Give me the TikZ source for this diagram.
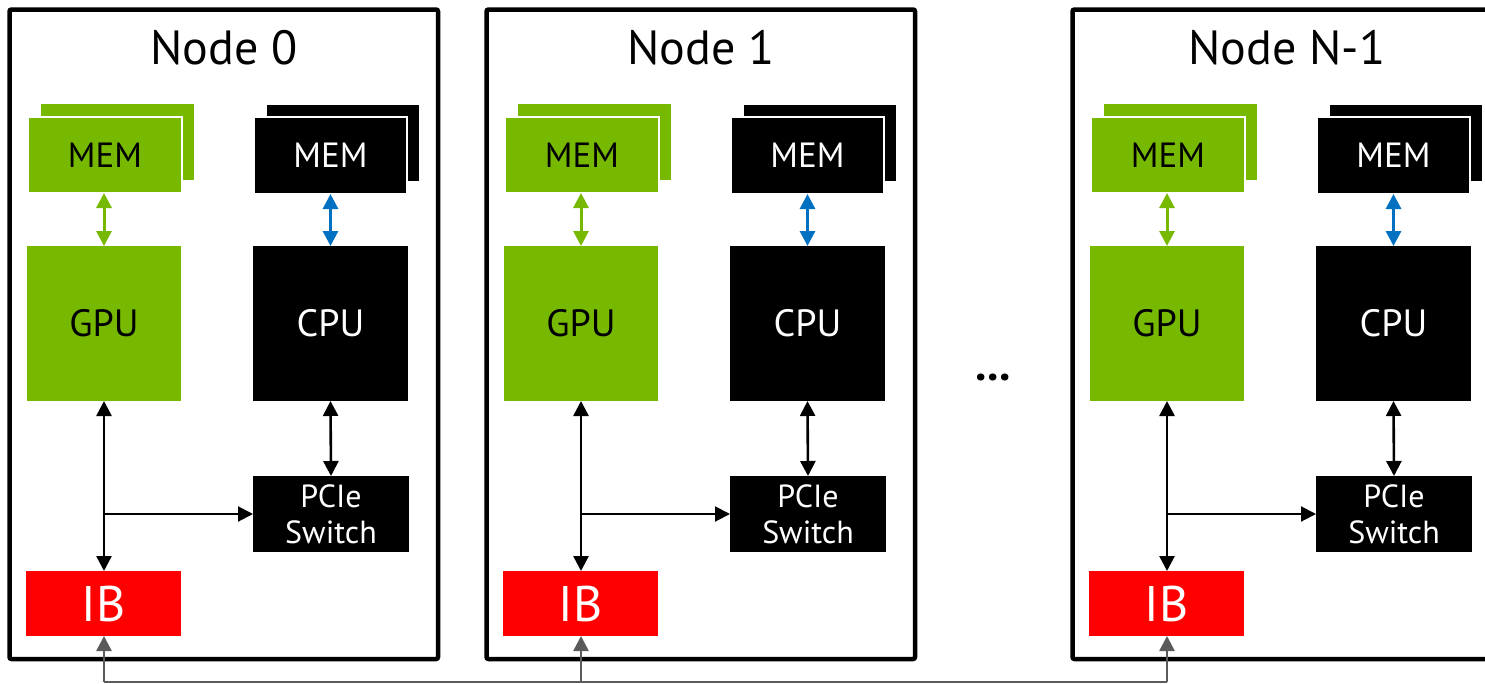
\documentclass[tikz,border=0pt]{standalone}
\usepackage{fontspec}
\setmainfont{PT Sans}
\usetikzlibrary{arrows.meta}
\definecolor{nvgreen}{HTML}{76B900}
\definecolor{ibred}{HTML}{FF0000}
\definecolor{memblue}{HTML}{0070C0}
\definecolor{busgray}{HTML}{5A5A5A}
\begin{document}
\begin{tikzpicture}[x=1pt,y=-1pt,
  blk/.style={inner sep=0pt, outer sep=0pt, align=center},
  greenblk/.style={blk, fill=nvgreen, text=black},
  blackblk/.style={blk, fill=black, text=white},
  redblk/.style={blk, fill=ibred, text=white},
  frontmem/.style={draw=white, line width=1.2pt},
  memfont/.style={font=\fontsize{35}{38}\selectfont},
  chipfont/.style={font=\fontsize{38}{42}\selectfont},
  pciefont/.style={font=\fontsize{32}{36}\selectfont},
  ibfont/.style={font=\fontsize{50}{54}\selectfont},
  titlefont/.style={font=\fontsize{48}{52}\selectfont},
  nodebox/.style={draw=black, line width=4.5pt, rounded corners=2pt},
  memlink/.style={{Triangle[width=15pt,length=15pt]}-{Triangle[width=15pt,length=15pt]}, line width=3pt},
  dualblack/.style={{Triangle[width=15pt,length=15pt]}-{Triangle[width=15pt,length=15pt]}, line width=2.6pt, draw=black},
  branch/.style={-{Triangle[width=15pt,length=15pt]}, line width=2pt, draw=black},
  busup/.style={-{Triangle[width=15pt,length=15pt]}, line width=2.6pt, draw=busgray},
  busline/.style={line width=2pt, draw=busgray}
]
\useasboundingbox (0,0) rectangle (1485,683);
\clip (0,0) rectangle (1485,683);

\foreach \i/\dx/\t in {0/0/0, 1/477/1, 2/1063/N-1}{
  \begin{scope}[xshift=\dx pt]
    \draw[nodebox] (9.5,9.5) rectangle (438,659);
    \node[titlefont] (title\i) at (224,48) {Node \t};
    % GPU memory (stacked)
    \node[greenblk, minimum width=153pt, minimum height=76pt] (gmemb\i) at (117.5,142) {};
    \node[greenblk, frontmem, memfont, minimum width=154pt, minimum height=76pt] (gmem\i) at (105,155) {MEM};
    % CPU memory (stacked)
    \node[blackblk, minimum width=152pt, minimum height=76pt] (cmemb\i) at (343,143) {};
    \node[blackblk, frontmem, memfont, minimum width=153pt, minimum height=77pt] (cmem\i) at (330.5,155.5) {MEM};
    % chips
    \node[greenblk, chipfont, minimum width=154pt, minimum height=155pt] (gpu\i) at (104,323.5) {GPU};
    \node[blackblk, chipfont, minimum width=155pt, minimum height=155pt] (cpu\i) at (330.5,323.5) {CPU};
    \node[blackblk, pciefont, minimum width=156pt, minimum height=76pt] (pcie\i) at (331,514) {PCIe\\Switch};
    \node[redblk, ibfont, minimum width=155pt, minimum height=65pt] (ib\i) at (103.5,603.5) {IB};
    \coordinate (j\i) at (104,514);
    \coordinate (b\i) at (104,682);
  \end{scope}
  \draw[memlink, draw=nvgreen, fill=nvgreen] (gpu\i.north) -- (gpu\i.north |- gmem\i.south);
  \draw[memlink, draw=memblue, fill=memblue] (cpu\i.north) -- (cpu\i.north |- cmem\i.south);
  \draw[dualblack] (gpu\i.south) -- (gpu\i.south |- ib\i.north);
  \draw[dualblack] (cpu\i.south) -- (pcie\i.north);
  \draw[branch] (j\i) -- (pcie\i.west);
  \draw[busup] (b\i) -- (b\i |- ib\i.south);
}
\draw[busline] (b0) -- (b2);
\node[font=\fontsize{46}{50}\selectfont\bfseries, inner sep=0pt] (dots) at (993,377) {...};
\end{tikzpicture}
\end{document}
